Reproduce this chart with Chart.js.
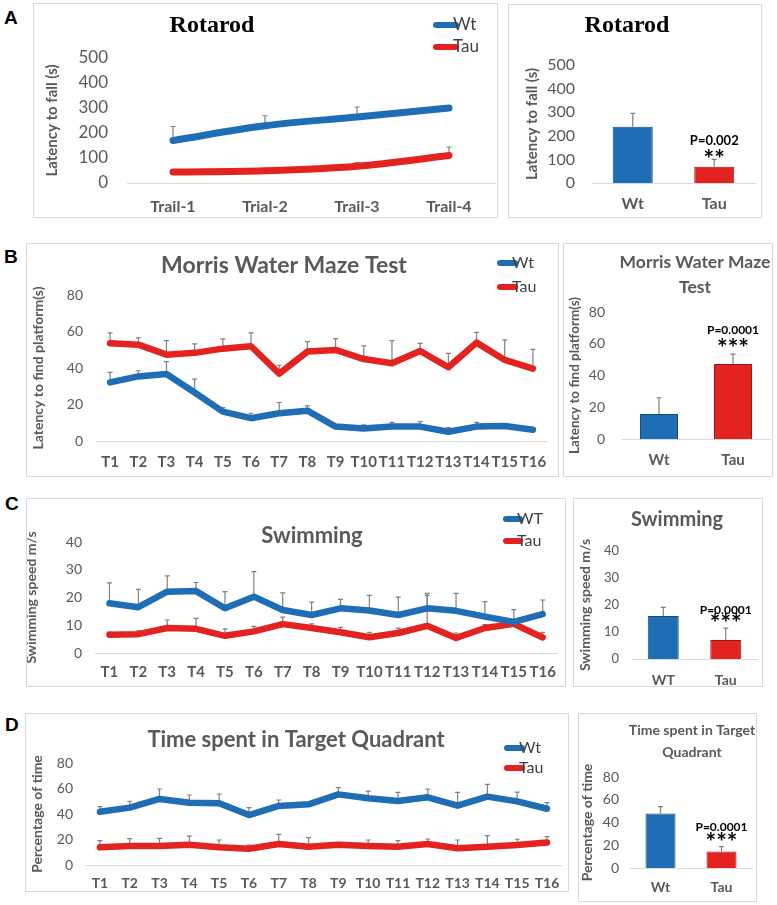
<!DOCTYPE html>
<html>
<head>
<meta charset="utf-8">
<script src="https://cdn.jsdelivr.net/npm/chart.js@4.4.1/dist/chart.umd.min.js"></script>
<style>
body { margin: 0; background: #fff; width: 777px; height: 905px; position: relative; overflow: hidden; }
canvas { position: absolute; }
.frame { position: absolute; border: 1px solid #d9d9d9; box-sizing: border-box; pointer-events: none; }
.tag { position: absolute; font: bold 19px 'Liberation Sans', Arial, sans-serif; color: #000; }
</style>
</head>
<body>
<div class="tag" style="left:4px;top:7px">A</div>
<div class="tag" style="left:4px;top:246px">B</div>
<div class="tag" style="left:5px;top:493px">C</div>
<div class="tag" style="left:5px;top:714px">D</div>
<script>
// Rotarod
const trails = ['Trail-1', 'Trial-2', 'Trail-3', 'Trail-4'];
const rotaWt = [170, 229, 264, 300];
const rotaWtErr = [56, 40, 40, 8];
const rotaTau = [44, 49, 67, 110];
const rotaTauErr = [9, 10, 15, 34];
const groups = ['Wt', 'Tau'];
const rotaBar = [238, 69];
const rotaBarErr = [57, 31];

// Morris water maze
const trials = ['T1', 'T2', 'T3', 'T4', 'T5', 'T6', 'T7', 'T8', 'T9', 'T10', 'T11', 'T12', 'T13', 'T14', 'T15', 'T16'];
const mwmWt = [32.1, 35.4, 36.7, 26.6, 16.1, 12.5, 15.2, 16.6, 7.9, 6.9, 7.9, 7.9, 5.1, 7.9, 8.2, 6.2];
const mwmWtErr = [5.5, 3.1, 6.8, 7.3, 2.2, 2.7, 5.9, 2.6, 0.5, 1.9, 2.3, 2.7, 2.2, 2.3, 1.1, 0.5];
const mwmTau = [53.5, 52.8, 47.3, 48.3, 50.6, 51.9, 36.9, 49.0, 49.9, 44.9, 42.6, 49.3, 40.4, 53.9, 44.4, 39.7];
const mwmTauErr = [5.8, 3.7, 7.7, 4.9, 5.4, 7.4, 4.6, 5.4, 6.2, 7.2, 12.4, 4.2, 7.6, 5.6, 11, 10.5];
const mwmBar = [15.7, 47.2];
const mwmBarErr = [10.3, 6.3];

// Swimming
const groupsC = ['WT', 'Tau'];
const swimWt = [17.9, 16.5, 22.1, 22.3, 16.1, 20.3, 15.5, 13.7, 16.1, 15.3, 13.7, 16.1, 15.2, 13.1, 11.2, 14.0];
const swimWtErr = [7.4, 6.4, 5.7, 3.1, 6.0, 9.0, 6.2, 4.6, 3.2, 5.5, 6.4, 5.4, 6.3, 5.4, 4.4, 5.1];
const swimTau = [6.6, 6.8, 9.0, 8.7, 6.2, 7.8, 10.4, 9.0, 7.5, 5.7, 7.2, 9.8, 5.4, 9.0, 10.5, 5.6];
const swimTauErr = [0.9, 1.2, 2.9, 3.8, 2.5, 1.8, 2.5, 1.5, 1.7, 1.7, 1.8, 11, 1.8, 1.2, 1.0, 1.8];
const swimBar = [15.9, 7.0];
const swimBarErr = [3.2, 4.4];

// Target quadrant
const tqWt = [41.8, 45.0, 51.8, 48.9, 48.4, 39.2, 46.3, 47.6, 55.4, 52.3, 50.2, 53.1, 46.5, 53.6, 49.9, 44.1];
const tqWtErr = [4, 5, 7.8, 6, 7.3, 5.8, 4.7, 1, 5.3, 5.7, 6.8, 6.5, 10.5, 9.7, 7.3, 4.9];
const tqTau = [13.9, 14.9, 14.9, 15.9, 13.9, 12.8, 16.5, 14.4, 15.9, 14.9, 14.4, 16.5, 13.1, 14.4, 15.7, 17.6];
const tqTauErr = [5.2, 5.8, 6, 6.8, 5.7, 2.9, 7.5, 7, 0.5, 4.7, 4.7, 3.9, 6.5, 8.6, 4.5, 4.7];
const tqBar = [48, 14.4];
const tqBarErr = [6, 4.4];

const BLUE = '#1f6db5', RED = '#e2231f';
const GREY = '#595959';

function drawErrors(chart) {
  const ctx = chart.ctx, y = chart.scales.y;
  chart.data.datasets.forEach((ds, di) => {
    if (!ds.errorBars) return;
    const meta = chart.getDatasetMeta(di);
    ctx.save();
    ctx.strokeStyle = '#808080';
    ctx.lineWidth = 1.2;
    meta.data.forEach((el, i) => {
      const base = y.getPixelForValue(ds.data[i]);
      const top = y.getPixelForValue(ds.data[i] + ds.errorBars[i]);
      ctx.beginPath();
      ctx.moveTo(el.x, base);
      ctx.lineTo(el.x, top);
      ctx.moveTo(el.x - 2.5, top);
      ctx.lineTo(el.x + 2.5, top);
      ctx.stroke();
    });
    ctx.restore();
  });
}

const errorBars = {
  id: 'errorBars',
  beforeDatasetsDraw(chart) { if (chart.config.type === 'line') drawErrors(chart); },
  afterDatasetsDraw(chart) { if (chart.config.type === 'bar') drawErrors(chart); }
};

// titles, legend, p-values
const deco = {
  id: 'deco',
  afterDraw(chart, args, o) {
    const ctx = chart.ctx;
    const [ox, oy] = o.origin;
    ctx.save();
    ctx.textBaseline = 'middle';
    (o.texts || []).forEach(t => {
      ctx.font = t.font;
      ctx.fillStyle = t.color || GREY;
      ctx.textAlign = 'center';
      ctx.fillText(t.text, t.x - ox, t.y - oy);
    });
    (o.legend || []).forEach((l, i) => {
      const ds = chart.data.datasets[i];
      ctx.strokeStyle = ds.borderColor;
      ctx.lineWidth = 6;
      ctx.lineCap = 'round';
      ctx.beginPath();
      ctx.moveTo(l.x1 - ox, l.y - oy);
      ctx.lineTo(l.x2 - ox, l.y - oy);
      ctx.stroke();
      ctx.font = l.font;
      ctx.fillStyle = '#404040';
      ctx.textAlign = 'left';
      ctx.fillText(ds.label, l.x2 - 3 - ox, l.y - oy);
    });
    if (o.note) {
      const ds = chart.data.datasets[0];
      const el = chart.getDatasetMeta(0).data[1];
      const top = chart.scales.y.getPixelForValue(ds.data[1] + ds.errorBars[1]);
      ctx.fillStyle = '#000';
      ctx.textAlign = 'center';
      ctx.font = o.note.pFont;
      ctx.fillText(o.note.p, el.x, top - o.note.pUp);
      ctx.font = o.note.sFont;
      ctx.textBaseline = 'alphabetic';
      ctx.fillText(o.note.stars, el.x, top - o.note.sUp);
    }
    ctx.restore();
  }
};

Chart.register(errorBars, deco);

function makePanel(p) {
  const [bx, by, bw, bh] = p.box;
  const [al, at, ar, ab] = p.area;
  const cv = document.createElement('canvas');
  cv.width = bw;
  cv.height = bh;
  cv.style.left = bx + 'px';
  cv.style.top = by + 'px';
  document.body.appendChild(cv);
  const fr = document.createElement('div');
  fr.className = 'frame';
  fr.style.cssText = `left:${bx}px;top:${by}px;width:${bw}px;height:${bh}px`;
  document.body.appendChild(fr);

  const isBar = p.type === 'bar';
  const datasets = isBar
    ? [{
        data: p.values, errorBars: p.errs,
        backgroundColor: [BLUE, RED], borderColor: ['#1a4a7a', '#9e1717'], borderWidth: 1,
        barPercentage: p.barW / ((ar - al) / 2), categoryPercentage: 1
      }]
    : p.series.map(s => ({
        label: s.label, data: s.data, errorBars: s.err,
        borderColor: s.color, backgroundColor: s.color, borderWidth: p.lineWidth,
        pointRadius: 0, tension: p.tension || 0, borderCapStyle: 'round', borderJoinStyle: 'round'
      }));

  new Chart(cv, {
    type: p.type,
    data: { labels: p.labels, datasets },
    options: {
      responsive: false,
      animation: false,
      events: [],
      layout: { padding: { left: 0, top: at - by, right: bx + bw - ar, bottom: 0 } },
      plugins: {
        legend: { display: false },
        tooltip: { enabled: false },
        deco: { origin: [bx, by], texts: p.texts, legend: p.legend, note: p.note }
      },
      scales: {
        x: {
          offset: true,
          grid: { display: false, drawTicks: false },
          border: { display: true, color: '#d9d9d9', width: 1 },
          ticks: {
            color: GREY, autoSkip: false, maxRotation: 0,
            font: { family: 'Lato', weight: 'bold', size: p.xSize },
            padding: p.xLabelY - ab - 0.6 * p.xSize
          },
          afterFit: s => { s.height = by + bh - ab; }
        },
        y: {
          min: 0, max: p.max,
          grid: { display: false, drawTicks: false },
          border: { display: false },
          ticks: {
            stepSize: p.step, color: GREY,
            font: { family: 'Lato', size: p.ySize },
            padding: al - p.yRight
          },
          title: {
            display: true, text: p.yTitle, color: GREY,
            font: { family: 'Lato', weight: 'bold', size: p.yTitleSize },
            padding: { top: p.yTitleX - bx - 0.6 * p.yTitleSize, bottom: 0 }
          },
          afterFit: s => { s.width = al - bx; }
        }
      }
    }
  });
}

const serif = 'bold 24px "Liberation Serif", "Times New Roman", serif';
const starFont = 'bold 25px Lato';

// A
makePanel({
  type: 'line', box: [33, 3, 465, 215], area: [127, 58, 495, 183],
  labels: trails, max: 500, step: 100, lineWidth: 7, tension: 0.35,
  series: [
    { label: 'Wt', data: rotaWt, err: rotaWtErr, color: BLUE },
    { label: 'Tau', data: rotaTau, err: rotaTauErr, color: RED }
  ],
  texts: [{ text: 'Rotarod', x: 212, y: 26, font: serif, color: '#000' }],
  legend: [{ x1: 436, x2: 456, y: 25, font: '17px Lato' }, { x1: 436, x2: 456, y: 47, font: '17px Lato' }],
  yTitle: 'Latency to fall (s)', yTitleX: 52, yTitleSize: 15,
  ySize: 17, yRight: 108, xSize: 16, xLabelY: 207
});
makePanel({
  type: 'bar', box: [508, 4, 254, 214], area: [592, 65, 755, 183],
  labels: groups, values: rotaBar, errs: rotaBarErr, barW: 40, max: 500, step: 100,
  texts: [{ text: 'Rotarod', x: 627, y: 26, font: serif, color: '#000' }],
  note: { p: 'P=0.002', pFont: 'bold 13px Lato', pUp: 19, stars: '**', sFont: starFont, sUp: -9 },
  yTitle: 'Latency to fall (s)', yTitleX: 532, yTitleSize: 15,
  ySize: 16, yRight: 575, xSize: 16, xLabelY: 204
});

// B
makePanel({
  type: 'line', box: [26, 243, 533, 234], area: [96, 295, 547, 441],
  labels: trials, max: 80, step: 20, lineWidth: 6.5,
  series: [
    { label: 'Wt', data: mwmWt, err: mwmWtErr, color: BLUE },
    { label: 'Tau', data: mwmTau, err: mwmTauErr, color: RED }
  ],
  texts: [{ text: 'Morris Water Maze Test', x: 284, y: 266, font: 'bold 23px Lato' }],
  legend: [{ x1: 500, x2: 515, y: 263, font: '16px Lato' }, { x1: 500, x2: 515, y: 287, font: '16px Lato' }],
  yTitle: 'Latency to find platform(s)', yTitleX: 38, yTitleSize: 14,
  ySize: 14, yRight: 83, xSize: 15, xLabelY: 462
});
makePanel({
  type: 'bar', box: [563, 243, 210, 234], area: [622, 312, 770, 439],
  labels: groups, values: mwmBar, errs: mwmBarErr, barW: 38, max: 80, step: 20,
  texts: [
    { text: 'Morris Water Maze', x: 695, y: 262, font: 'bold 17.5px Lato' },
    { text: 'Test', x: 695, y: 287, font: 'bold 17.5px Lato' }
  ],
  note: { p: 'P=0.0001', pFont: 'bold 12px Lato', pUp: 24, stars: '***', sFont: starFont, sUp: -3 },
  yTitle: 'Latency to find platform(s)', yTitleX: 575, yTitleSize: 13.5,
  ySize: 14, yRight: 605, xSize: 15, xLabelY: 460
});

// C
makePanel({
  type: 'line', box: [26, 498, 540, 189], area: [95, 542, 562, 653],
  labels: trials, max: 40, step: 10, lineWidth: 6.5,
  series: [
    { label: 'WT', data: swimWt, err: swimWtErr, color: BLUE },
    { label: 'Tau', data: swimTau, err: swimTauErr, color: RED }
  ],
  texts: [{ text: 'Swimming', x: 312, y: 536, font: 'bold 22px Lato' }],
  legend: [{ x1: 506, x2: 520, y: 519, font: '16px Lato' }, { x1: 506, x2: 520, y: 541, font: '16px Lato' }],
  yTitle: 'Swimming speed m/s', yTitleX: 31, yTitleSize: 14,
  ySize: 14, yRight: 82, xSize: 15, xLabelY: 672
});
makePanel({
  type: 'bar', box: [573, 498, 190, 189], area: [632, 551, 757, 659],
  labels: groupsC, values: swimBar, errs: swimBarErr, barW: 31, max: 40, step: 10,
  texts: [{ text: 'Swimming', x: 677, y: 520, font: 'bold 20px Lato' }],
  note: { p: 'P=0.0001', pFont: 'bold 12px Lato', pUp: 18, stars: '***', sFont: starFont, sUp: -4 },
  yTitle: 'Swimming speed m/s', yTitleX: 585, yTitleSize: 14,
  ySize: 13, yRight: 619, xSize: 14, xLabelY: 680
});

// D
makePanel({
  type: 'line', box: [25, 713, 544, 179], area: [85, 763, 566, 865],
  labels: trials, max: 80, step: 20, lineWidth: 6.5,
  series: [
    { label: 'Wt', data: tqWt, err: tqWtErr, color: BLUE },
    { label: 'Tau', data: tqTau, err: tqTauErr, color: RED }
  ],
  texts: [{ text: 'Time spent in Target Quadrant', x: 296, y: 740, font: 'bold 22px Lato' }],
  legend: [{ x1: 507, x2: 522, y: 748, font: '16px Lato' }, { x1: 507, x2: 522, y: 768, font: '16px Lato' }],
  yTitle: 'Percentage of time', yTitleX: 37, yTitleSize: 14,
  ySize: 14, yRight: 73, xSize: 14, xLabelY: 883
});
makePanel({
  type: 'bar', box: [578, 713, 179, 189], area: [630, 777, 752, 868],
  labels: groups, values: tqBar, errs: tqBarErr, barW: 30, max: 80, step: 20,
  texts: [
    { text: 'Time spent in Target', x: 692, y: 730, font: 'bold 14px Lato' },
    { text: 'Quadrant', x: 692, y: 752, font: 'bold 14px Lato' }
  ],
  note: { p: 'P=0.0001', pFont: 'bold 12px Lato', pUp: 19, stars: '***', sFont: starFont, sUp: -4 },
  yTitle: 'Percentage of time', yTitleX: 587, yTitleSize: 14,
  ySize: 14, yRight: 619, xSize: 14, xLabelY: 887
});
</script>
</body>
</html>
